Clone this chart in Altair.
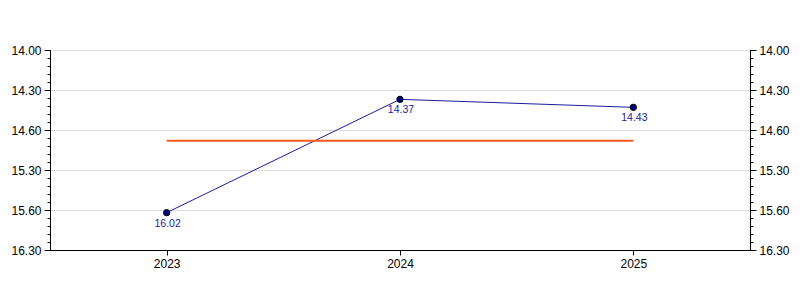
import altair as alt
import pandas as pd

# Data (times in minutes.seconds as shown on the labels)
years = ["2023", "2024", "2025"]
time_labels = ["16.02", "14.37", "14.43"]
average_label = "15.08"

# Y axis ticks (seconds) and their displayed labels
tick_seconds = [840, 870, 900, 930, 960, 990]
tick_labels = ["14.00", "14.30", "14.60", "15.30", "15.60", "16.30"]
minor_seconds = list(range(840, 991, 6))


def to_sec(s):
    m, sec = s.split(".")
    return int(m) * 60 + int(sec)


df = pd.DataFrame({
    "year": years,
    "sec": [to_sec(t) for t in time_labels],
    "label": time_labels,
})
avg_df = pd.DataFrame({"x": [years[0]], "x2": [years[-1]], "sec": [to_sec(average_label)]})

expr = "''"
for v, l in zip(reversed(tick_seconds), reversed(tick_labels)):
    expr = f"datum.value == {v} ? '{l}' : ({expr})"

FONT = "Liberation Sans"

yscale = alt.Scale(domain=[840, 990], reverse=True, zero=False, nice=False)
xenc = alt.X("year:O", scale=alt.Scale(type="point", padding=0.5),
             axis=alt.Axis(title=None, labelAngle=0, tickSize=5, labelPadding=3,
                           domainColor="black", tickColor="black", labelColor="black",
                           labelFontSize=12, labelFont=FONT, grid=False))

major_left = alt.Axis(title=None, values=tick_seconds, labelExpr=expr, orient="left",
                      tickSize=6, labelPadding=3, grid=True, gridColor="#dddddd",
                      domainColor="black", tickColor="black", labelColor="black",
                      labelFontSize=12, labelFont=FONT)
major_right = alt.Axis(title=None, values=tick_seconds, labelExpr=expr, orient="right",
                       tickSize=6, labelPadding=3, grid=False,
                       domainColor="black", tickColor="black", labelColor="black",
                       labelFontSize=12, labelFont=FONT)
minor_left = alt.Axis(title=None, values=minor_seconds, labels=False, orient="left",
                      tickSize=3, grid=False, domain=False, tickColor="black")
minor_right = alt.Axis(title=None, values=minor_seconds, labels=False, orient="right",
                       tickSize=3, grid=False, domain=False, tickColor="black")

line = alt.Chart(df).mark_line(color="#1c1ca0", strokeWidth=1).encode(
    x=xenc, y=alt.Y("sec:Q", scale=yscale, axis=major_left))

rule = alt.Chart(avg_df).mark_rule(color="#ff5a1e", strokeWidth=2).encode(
    x=alt.X("x:O", scale=alt.Scale(type="point", padding=0.5)), x2="x2",
    y=alt.Y("sec:Q", scale=yscale, axis=major_right))

points = alt.Chart(df).mark_point(filled=True, fill="#000080", stroke="black",
                                  strokeWidth=1, size=40, opacity=1).encode(
    x="year:O", y=alt.Y("sec:Q", scale=yscale, axis=minor_left))

text = alt.Chart(df).mark_text(dy=11, dx=1, color="#1a1aa0", fontSize=10.5, font=FONT).encode(
    x="year:O", y=alt.Y("sec:Q", scale=yscale, axis=minor_right), text="label:N")

chart = alt.layer(line, rule, points, text).resolve_scale(y="shared", x="shared").resolve_axis(
    y="independent").properties(
    width=700, height=200,
    autosize=alt.AutoSizeParams(type="none"),
    padding={"left": 50, "top": 50, "right": 50, "bottom": 50},
    background="white",
).configure_view(stroke="black", strokeWidth=1).configure(font=FONT)

chart.save("out.html", embed_options={"renderer": "svg", "actions": False})
